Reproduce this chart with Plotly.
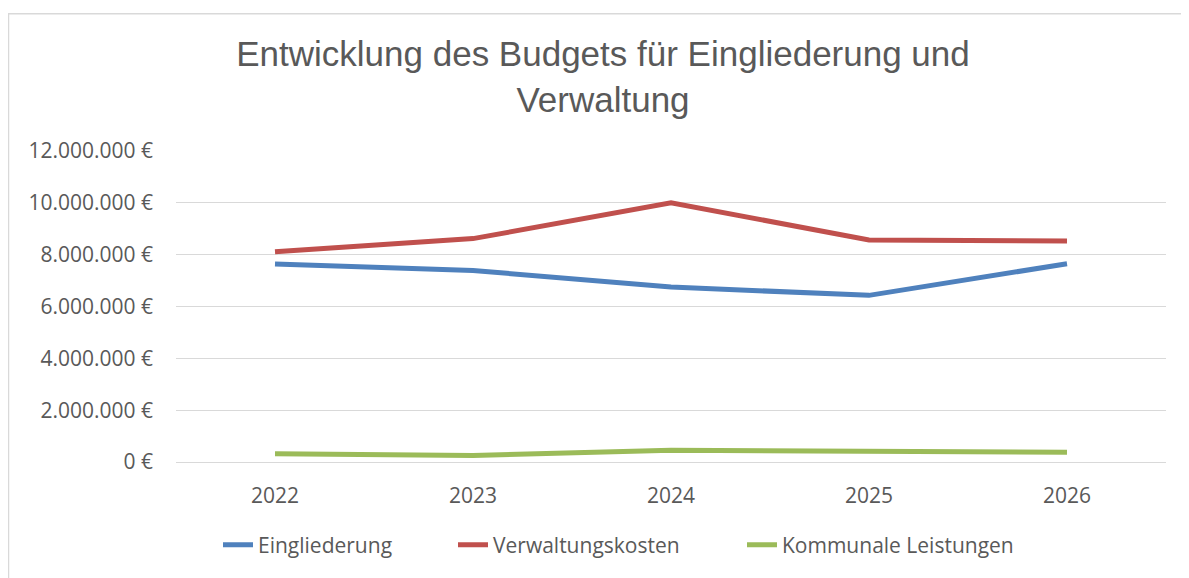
import plotly.graph_objects as go

years = ["2022", "2023", "2024", "2025", "2026"]
eingliederung = [7640000, 7390000, 6750000, 6430000, 7650000]
verwaltungskosten = [8110000, 8620000, 10000000, 8570000, 8530000]
kommunale = [320000, 250000, 450000, 420000, 380000]

series_names = ["Eingliederung", "Verwaltungskosten", "Kommunale Leistungen"]
series_values = [eingliederung, verwaltungskosten, kommunale]
series_colors = ["#4F81BD", "#C0504D", "#9BBB59"]
y_ticks = [0, 2000000, 4000000, 6000000, 8000000, 10000000, 12000000]
y_labels = ["0 €", "2.000.000 €", "4.000.000 €", "6.000.000 €", "8.000.000 €", "10.000.000 €", "12.000.000 €"]

# page body has an 8px margin -> design in shifted coordinates
OFF = 8
W, H = 1189 - OFF, 578 - OFF
L, T = 176 - OFF, 151 - OFF
pw, ph = 990, 314
R, B = W - L - pw, H - T - ph

def px(x):
    return (x - OFF - L) / pw

def py(y):
    return 1 - (y - OFF - T) / ph

font_main = "'Open Sans', sans-serif"
legend_names = ["legend", "legend2", "legend3"]
legend_text_x = [260, 495, 784]

fig = go.Figure()
for name, vals, col, lg in zip(series_names, series_values, series_colors, legend_names):
    fig.add_trace(go.Scatter(x=years, y=vals, name=name, mode="lines",
                             line=dict(color=col, width=5), legend=lg))

legend_layouts = {}
for lg, tx in zip(legend_names, legend_text_x):
    legend_layouts[lg] = dict(orientation="h", x=px(tx - 42), xanchor="left", y=py(549),
                              yanchor="middle", font=dict(family=font_main, size=21, color="#595959"),
                              bgcolor="rgba(0,0,0,0)")

fig.update_layout(
    width=W, height=H,
    margin=dict(l=L, r=R, t=T, b=B),
    paper_bgcolor="white", plot_bgcolor="white",
    title=dict(text="Entwicklung des Budgets für Eingliederung und<br>Verwaltung",
               x=px(603), xref="paper", xanchor="center",
               y=1 - 58 / H, yanchor="middle",
               font=dict(family="'Liberation Sans', Arial, sans-serif", size=35, color="#595959")),
    showlegend=True,
    xaxis=dict(type="category", range=[-0.5, 4.5], showgrid=False, zeroline=False,
               showline=True, linecolor="#d9d9d9", linewidth=1, ticks="",
               tickfont=dict(family=font_main, size=21, color="#595959"), ticklabelstandoff=15),
    yaxis=dict(range=[0, 12000000], tickvals=y_ticks, ticktext=y_labels,
               showgrid=True, gridcolor="#d9d9d9", gridwidth=1, zeroline=False,
               showline=False, ticks="", ticklabelstandoff=22,
               tickfont=dict(family=font_main, size=21, color="#595959")),
    **legend_layouts,
)

# outer chart border
fig.add_shape(type="rect", xref="paper", yref="paper",
              x0=px(8.5), x1=px(1189 + 5),
              y0=py(578 + 5), y1=py(12.5),
              line=dict(color="#d9d9d9", width=1.5), layer="below")

fig.write_html("out.html")
